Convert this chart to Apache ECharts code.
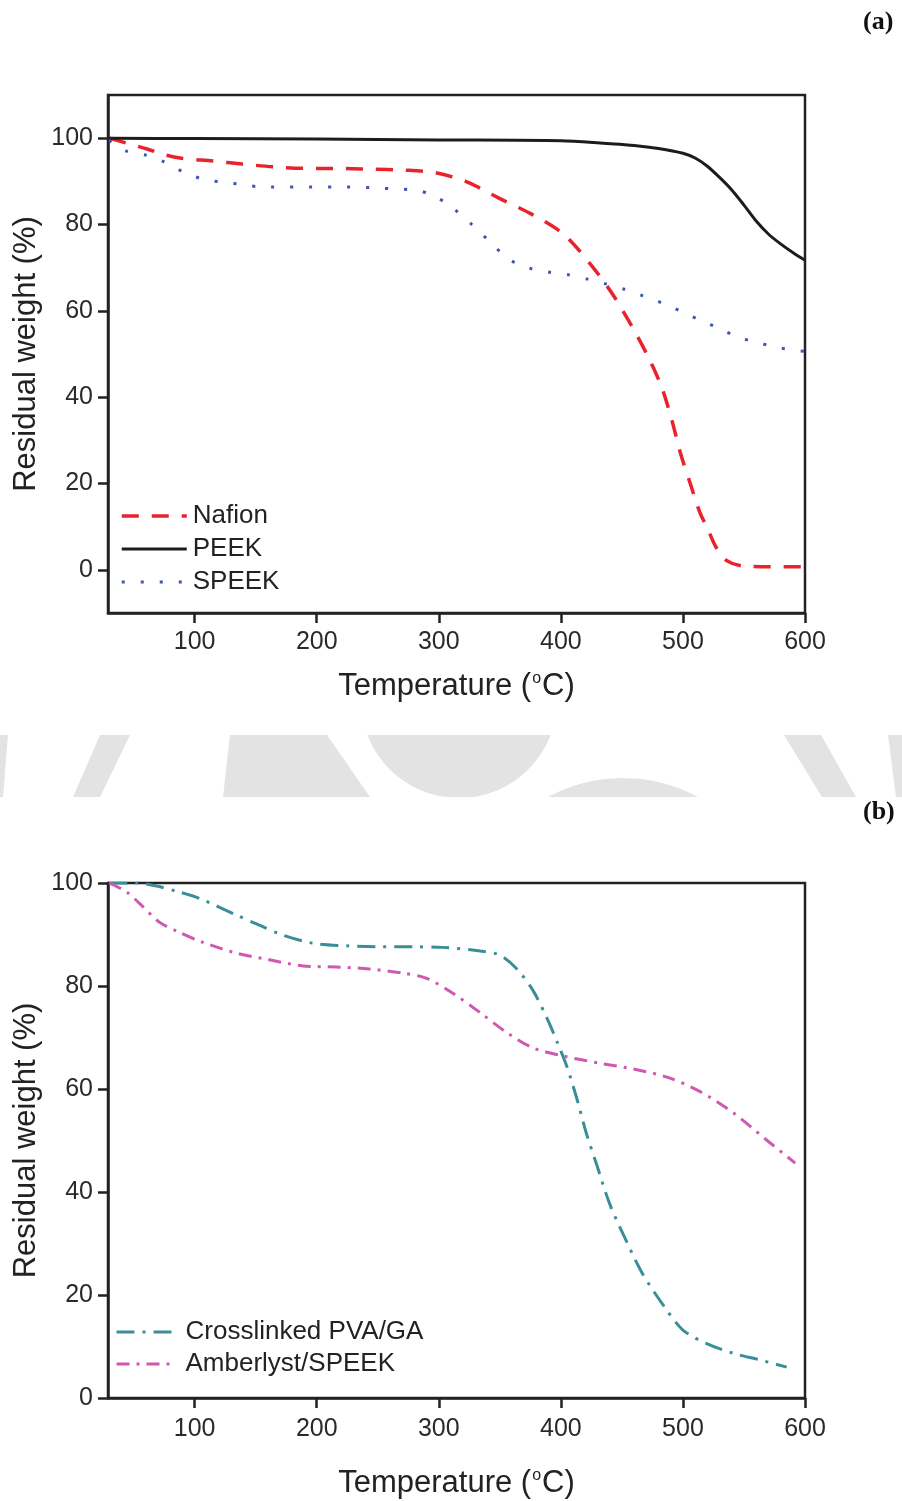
<!DOCTYPE html>
<html>
<head>
<meta charset="utf-8">
<script src="https://cdn.jsdelivr.net/npm/echarts@6/dist/echarts.min.js"></script>
<style>
html,body{margin:0;padding:0;background:#fff;}
#chart{width:902px;height:1501px;}
</style>
</head>
<body>
<div id="chart"></div>
<script>
// ---- data (temperature °C, residual weight %) ----
const nafion = [[30,100],[33,99.8],[45,98.8],[61,97.5],[75,96.2],[88,95.4],[115,94.7],[139,94],[167,93.3],[192,93],[219,93],[245,92.8],[271,92.6],[297,92],[322,90],[350,86],[376,82.4],[402,77.8],[424,70.9],[442,64],[459,56],[473,48.5],[483,42],[491,34.6],[498,27],[506,20],[514,13.2],[520,9.7],[527,5.3],[535,2.3],[549,0.9],[573,0.7],[598,0.7]];
const peek = [[30,100],[100,99.9],[200,99.8],[300,99.6],[400,99.4],[432,98.9],[460,98.3],[480,97.6],[500,96.5],[510,95.4],[520,93.5],[530,90.9],[540,88],[550,84.5],[560,80.8],[570,77.8],[580,75.5],[590,73.5],[600,71.7]];
const speek = [[30,99.5],[44,97],[61,96],[75,94.5],[92,92],[107,90.5],[123,89.8],[138,89.3],[155,88.7],[186,88.7],[217,88.7],[249,88.5],[264,88.2],[280,88],[295,86.8],[311,83.9],[327,80],[343,75.7],[357,72],[373,70],[389,69],[405,68.4],[421,67.4],[436,66.3],[452,65],[467,63.5],[484,61.7],[499,59.8],[515,57.7],[530,55.9],[546,53.8],[561,52.7],[577,51.5],[594,50.8],[600,50.6]];
const pvaGa = [[30,100],[52,100],[69,99.4],[85,98.4],[104,97],[134,93.8],[153,91.8],[172,89.9],[197,88.3],[225,87.8],[252,87.6],[279,87.6],[303,87.5],[334,86.8],[350,86],[364,83.3],[377,79.2],[388.5,73.8],[397,69.1],[405,64.3],[413,58.2],[421,51.3],[429.5,45.2],[440,37.7],[454,30.3],[467,24.1],[484,18],[500,13.2],[520,10.5],[541,8.7],[563,7.4],[585,6]];
const amberlyst = [[30,100],[44,98.3],[55,96],[71,92.4],[85,90.7],[106.5,88.5],[134,86.4],[159,85.2],[188.5,83.9],[216,83.7],[243,83.3],[270.5,82.5],[290,81.5],[311.5,78.6],[334,74.8],[356,70.9],[377,68],[402,66.4],[432,65],[459,63.9],[487,62.3],[514,59.5],[541,55.4],[569,50],[592,45.6]];
const xTicks = [100,200,300,400,500,600];
const yTicks = [0,20,40,60,80,100];
const namesA = ['Nafion','PEEK','SPEEK'];
const namesB = ['Crosslinked PVA/GA','Amberlyst/SPEEK'];

const FONT = 'Liberation Sans, Arial, sans-serif';
const INK = '#222';

function xAxisDef(gridIndex,gap,margin){
  return {
    type:'value', gridIndex, min:29, max:600,
    name:'Temperature ({sup|o}C)', nameLocation:'middle',
    nameGap: gap, nameMoveOverlap:false,
    nameTextStyle:{fontFamily:FONT,fontSize:31,color:INK,
      rich:{sup:{fontFamily:FONT,fontSize:16,color:INK,verticalAlign:'top',padding:[0,1,0,1]}}},
    axisLine:{onZero:false,lineStyle:{color:INK,width:2.5}},
    axisTick:{show:true,inside:false,length:10,lineStyle:{color:INK,width:2.5},customValues:xTicks},
    axisLabel:{fontFamily:FONT,fontSize:25,color:'#2a2a2a',margin,customValues:xTicks},
    splitLine:{show:false}
  };
}
function yAxisDef(gridIndex,min,max){
  return {
    type:'value', gridIndex, min, max,
    name:'Residual weight (%)', nameLocation:'middle', nameRotate:90,
    nameGap: 66, nameMoveOverlap:false,
    nameTextStyle:{fontFamily:FONT,fontSize:31,color:INK},
    axisLine:{onZero:false,lineStyle:{color:INK,width:2.5}},
    axisTick:{show:true,inside:false,length:10,lineStyle:{color:INK,width:2.5},customValues:yTicks},
    axisLabel:{fontFamily:FONT,fontSize:25,color:'#2a2a2a',margin:15,customValues:yTicks},
    splitLine:{show:false}
  };
}
function line(name,data,xi,yi,color,width,dash){
  return {
    type:'line', name, data, xAxisIndex:xi, yAxisIndex:yi,
    showSymbol:false, symbol:'none', smooth:0.3,
    lineStyle:{color,width,type:dash,cap:'butt'},
    itemStyle:{color},
    emphasis:{disabled:true}, silent:true, animation:false
  };
}

// decorative grey band between panels
const GRAY = '#e3e3e3';
const B0 = 735, B1 = 797;
function diskSegment(cx,cy,r){
  const left=[], right=[];
  for(let y=B0;y<=B1;y+=1){
    const d=r*r-(y-cy)*(y-cy);
    if(d<0) continue;
    const w=Math.sqrt(d);
    left.push([cx-w,y]); right.push([cx+w,y]);
  }
  return left.concat(right.reverse());
}
const bandShapes = [
  {type:'polygon',shape:{points:[[100,B0],[130,B0],[100,B1],[73,B1]]},style:{fill:GRAY}},
  {type:'polygon',shape:{points:[[230,B0],[327,B0],[370,B1],[223,B1]]},style:{fill:GRAY}},
  {type:'polygon',shape:{points:diskSegment(459,700,98)},style:{fill:GRAY}},
  {type:'polygon',shape:{points:diskSegment(623,935,157)},style:{fill:GRAY}},
  {type:'polygon',shape:{points:[[784,B0],[821,B0],[856,B1],[822,B1]]},style:{fill:GRAY}},
  {type:'polygon',shape:{points:[[0,B0],[8,B0],[3,B1],[0,B1]]},style:{fill:GRAY}},
  {type:'polygon',shape:{points:[[888,B0],[902,B0],[902,B1],[896,B1]]},style:{fill:GRAY}}
];

const legendCommon = {
  orient:'vertical', padding:0, itemHeight:14, selectedMode:false,
  itemStyle:{color:'transparent',borderWidth:0,opacity:0},
  lineStyle:{width:'inherit'}
};

const chart = echarts.init(document.getElementById('chart'),null,{renderer:'canvas'});
chart.setOption({
  animation:false,
  backgroundColor:'#fff',
  grid:[
    {left:108,right:97,top:95,height:518,show:true,borderColor:INK,borderWidth:2.5,backgroundColor:'transparent'},
    {left:108,right:97,top:883,height:515,show:true,borderColor:INK,borderWidth:2.5,backgroundColor:'transparent'}
  ],
  xAxis:[xAxisDef(0,58,17),xAxisDef(1,70,19)],
  yAxis:[yAxisDef(0,-10,110),yAxisDef(1,0,100)],
  legend:[
    Object.assign({},legendCommon,{data:namesA,left:120,top:502,itemWidth:65,itemGap:5,
     textStyle:{fontFamily:FONT,fontSize:26,color:INK,lineHeight:28,padding:[0,0,0,1]}}),
    Object.assign({},legendCommon,{data:namesB,left:115,top:1318,itemWidth:58,itemGap:4,
     textStyle:{fontFamily:FONT,fontSize:26,color:INK,lineHeight:28,padding:[0,0,0,6]}})
  ],
  series:[
    line('Nafion',nafion,0,0,'#e8232b',3.5,[17,13]),
    line('PEEK',peek,0,0,'#1c1c1c',3,'solid'),
    line('SPEEK',speek,0,0,'#3d56b3',3,[3,16]),
    line('Crosslinked PVA/GA',pvaGa,1,1,'#3a8e98',3,[18,8,3,8]),
    line('Amberlyst/SPEEK',amberlyst,1,1,'#cf59b2',3,[13,7,3,7])
  ],
  graphic:[
    {type:'text',left:863,top:9,style:{text:'(a)',font:'bold 26px "Liberation Serif", "Times New Roman", serif',fill:'#111'}},
    {type:'text',left:863,top:799,style:{text:'(b)',font:'bold 26px "Liberation Serif", "Times New Roman", serif',fill:'#111'}},
    {type:'group',silent:true,children:bandShapes}
  ]
});
</script>
</body>
</html>
